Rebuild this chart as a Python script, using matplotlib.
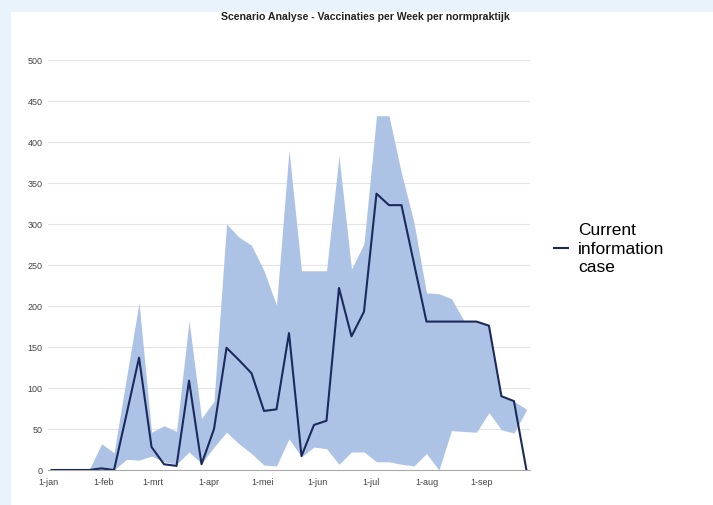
import matplotlib
matplotlib.use('Agg')
import matplotlib.pyplot as plt
import matplotlib.dates as mdates
from matplotlib.patches import Rectangle
import numpy as np

plt.rcParams['font.family'] = ['Liberation Sans', 'DejaVu Sans']

# weekly data points (week starts)
weeks = np.arange(np.datetime64('2021-01-03'), np.datetime64('2021-09-27'), np.timedelta64(7, 'D'))

# current information case
current = [0, 0, 0, 0, 2, 0, 68, 137, 28, 7, 5, 109, 7, 50, 149, 134, 118, 72, 74, 167,
           17, 55, 60, 222, 163, 193, 337, 323, 323, 252, 181, 181, 181, 181, 181, 176, 90, 84, 0]
# scenario range (upper / lower)
upper = [0, 0, 0, 0, 32, 21, 113, 204, 46, 54, 47, 182, 63, 84, 300, 284, 274, 243, 201, 390,
         243, 243, 243, 383, 245, 276, 432, 432, 362, 302, 216, 215, 209, 182, 181, 176, 90, 84, 74]
lower = [0, 0, 0, 0, 0, 0, 13, 12, 17, 10, 7, 22, 8, 28, 46, 32, 20, 6, 5, 38,
         16, 28, 26, 7, 22, 22, 10, 10, 7, 5, 20, 0, 48, 47, 46, 70, 49, 45, 73]

month_ticks = ['2021-01-01', '2021-02-01', '2021-03-01', '2021-04-01', '2021-05-01',
               '2021-06-01', '2021-07-01', '2021-08-01', '2021-09-01']
month_labels = ['1-jan', '1-feb', '1-mrt', '1-apr', '1-mei', '1-jun', '1-jul', '1-aug', '1-sep']
y_ticks = list(range(0, 501, 50))


def dnum(d):
    return mdates.date2num(np.datetime64(d, 'D').astype(object))


fig = plt.figure(figsize=(7.13, 5.06), dpi=100)
fig.patch.set_facecolor('#e8f3fc')
# white panel
fig.patches.append(Rectangle((11 / 713, 0), 1, 1 - 13 / 506, transform=fig.transFigure,
                             facecolor='white', edgecolor='none', zorder=-10))

ax = fig.add_axes([48 / 713, 1 - 471 / 506, (530 - 48) / 713, (471 - 61) / 506])
ax.set_zorder(1)
ax.set_facecolor('none')

x = [dnum(w) for w in weeks]
ax.fill_between(x, lower, upper, color='#adc3e6', linewidth=0, zorder=2)
ax.plot(x, current, color='#1b2a5c', linewidth=1.5, label='Current\ninformation\ncase', zorder=3)

ax.set_xlim(dnum('2021-01-01'), dnum('2021-09-28'))
ax.set_ylim(0, 500)
ax.set_xticks([dnum(d) for d in month_ticks])
ax.set_xticklabels(month_labels)
ax.set_yticks(y_ticks)
ax.tick_params(length=0, labelsize=6.5, labelcolor='#444444')
ax.tick_params(axis='y', pad=4)
ax.tick_params(axis='x', pad=5)
ax.grid(axis='y', color='#e4e4e4', linewidth=0.8, zorder=1)
for side in ['top', 'right', 'left']:
    ax.spines[side].set_visible(False)
ax.spines['bottom'].set_color('#aaaaaa')
ax.spines['bottom'].set_linewidth(0.8)

fig.text(365 / 713, 1 - 17 / 506, 'Scenario Analyse - Vaccinaties per Week per normpraktijk',
         ha='center', va='center', fontsize=7.6, fontweight='bold', color='#222222')

leg = fig.legend(loc='center left', bbox_to_anchor=(538 / 713, 1 - 249 / 506), frameon=False,
                 handlelength=0.8, handletextpad=0.6, fontsize=12.5)
for t in leg.get_texts():
    t.set_linespacing(1.3)

fig.savefig('out.png', dpi=100)
